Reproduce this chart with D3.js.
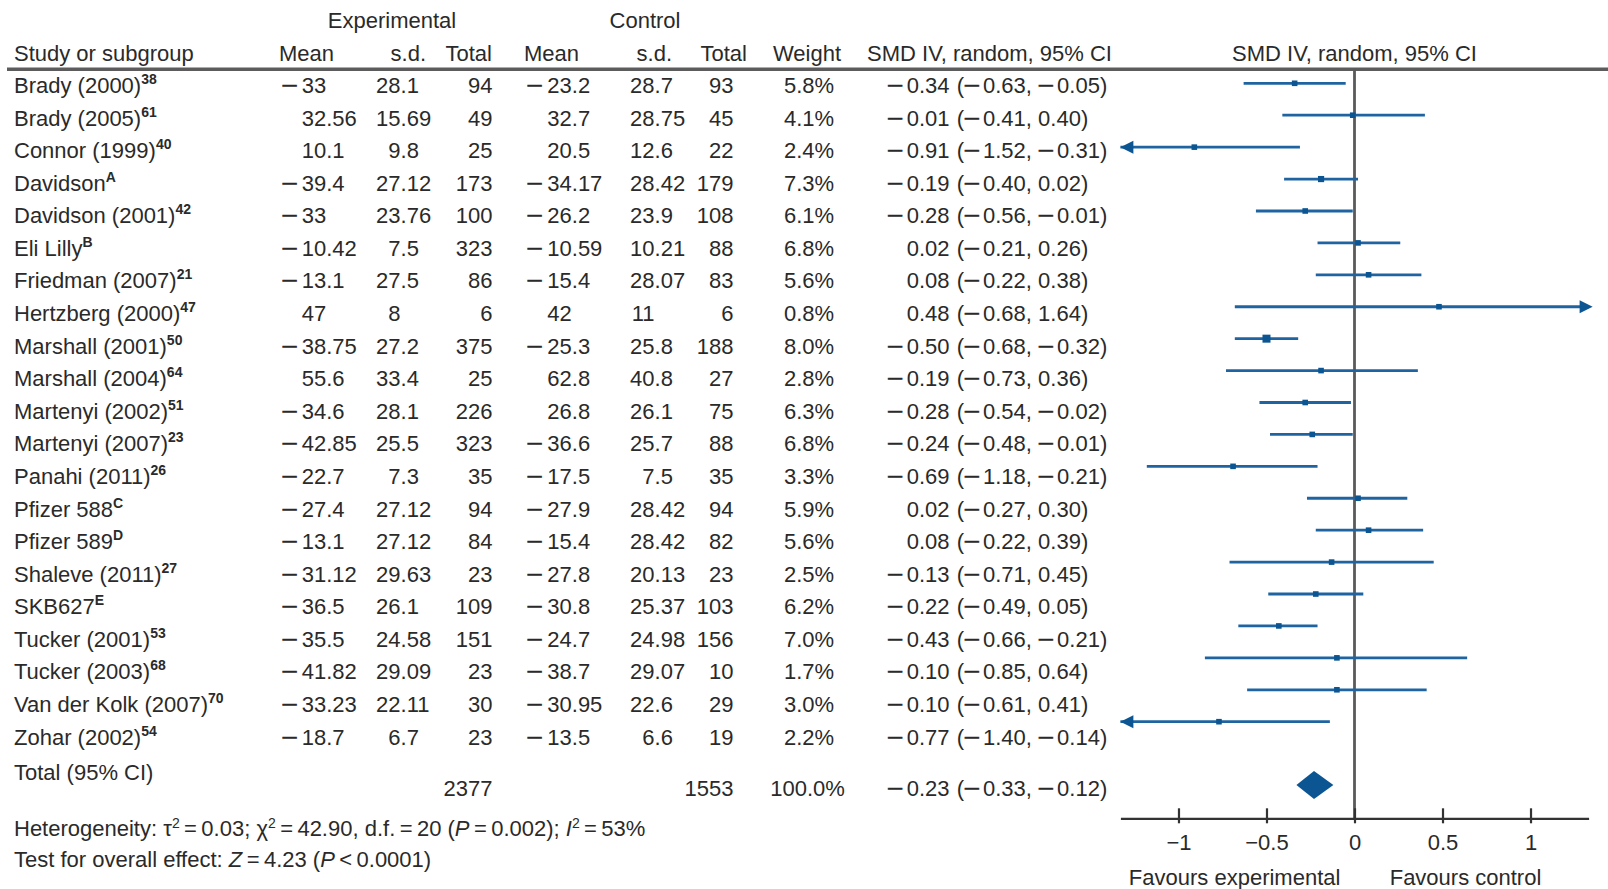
<!DOCTYPE html>
<html>
<head>
<meta charset="utf-8">
<script src="https://cdn.jsdelivr.net/npm/d3@7"></script>
<style>
  html, body { margin: 0; padding: 0; background: #fff; }
  svg { display: block; font-family: "Liberation Sans", Arial, sans-serif; }
  text { fill: #2a2a2a; font-size: 22px; }
</style>
</head>
<body>
<svg id="chart" width="1608" height="889"></svg>
<script>
// ---- Study-level data ----
const studies = ["Brady (2000)", "Brady (2005)", "Connor (1999)", "Davidson", "Davidson (2001)",
  "Eli Lilly", "Friedman (2007)", "Hertzberg (2000)", "Marshall (2001)", "Marshall (2004)",
  "Martenyi (2002)", "Martenyi (2007)", "Panahi (2011)", "Pfizer 588", "Pfizer 589",
  "Shaleve (2011)", "SKB627", "Tucker (2001)", "Tucker (2003)", "Van der Kolk (2007)", "Zohar (2002)"];
const refs = ["38", "61", "40", "A", "42", "B", "21", "47", "50", "64", "51", "23", "26", "C", "D",
  "27", "E", "53", "68", "70", "54"];

const expMean = [-33, 32.56, 10.1, -39.4, -33, -10.42, -13.1, 47, -38.75, 55.6, -34.6, -42.85,
  -22.7, -27.4, -13.1, -31.12, -36.5, -35.5, -41.82, -33.23, -18.7];
const expSd = [28.1, 15.69, 9.8, 27.12, 23.76, 7.5, 27.5, 8, 27.2, 33.4, 28.1, 25.5, 7.3, 27.12,
  27.12, 29.63, 26.1, 24.58, 29.09, 22.11, 6.7];
const expN = [94, 49, 25, 173, 100, 323, 86, 6, 375, 25, 226, 323, 35, 94, 84, 23, 109, 151, 23, 30, 23];

const ctrlMean = [-23.2, 32.7, 20.5, -34.17, -26.2, -10.59, -15.4, 42, -25.3, 62.8, 26.8, -36.6,
  -17.5, -27.9, -15.4, -27.8, -30.8, -24.7, -38.7, -30.95, -13.5];
const ctrlSd = [28.7, 28.75, 12.6, 28.42, 23.9, 10.21, 28.07, 11, 25.8, 40.8, 26.1, 25.7, 7.5,
  28.42, 28.42, 20.13, 25.37, 24.98, 29.07, 22.6, 6.6];
const ctrlN = [93, 45, 22, 179, 108, 88, 83, 6, 188, 27, 75, 88, 35, 94, 82, 23, 103, 156, 10, 29, 19];

const weight = [5.8, 4.1, 2.4, 7.3, 6.1, 6.8, 5.6, 0.8, 8.0, 2.8, 6.3, 6.8, 3.3, 5.9, 5.6, 2.5,
  6.2, 7.0, 1.7, 3.0, 2.2];
const smd = [-0.34, -0.01, -0.91, -0.19, -0.28, 0.02, 0.08, 0.48, -0.50, -0.19, -0.28, -0.24,
  -0.69, 0.02, 0.08, -0.13, -0.22, -0.43, -0.10, -0.10, -0.77];
const lower = [-0.63, -0.41, -1.52, -0.40, -0.56, -0.21, -0.22, -0.68, -0.68, -0.73, -0.54, -0.48,
  -1.18, -0.27, -0.22, -0.71, -0.49, -0.66, -0.85, -0.61, -1.40];
const upper = [-0.05, 0.40, -0.31, 0.02, -0.01, 0.26, 0.38, 1.64, -0.32, 0.36, -0.02, -0.01,
  -0.21, 0.30, 0.39, 0.45, 0.05, -0.21, 0.64, 0.41, -0.14];

// ---- Pooled result ----
const totalExpN = 2377;
const totalCtrlN = 1553;
const totalWeight = 100.0;
const totalSmd = -0.23, totalLower = -0.33, totalUpper = -0.12;

// ---- Axis ticks ----
const tickValues = [-1, -0.5, 0, 0.5, 1];

// ---- Layout ----
const svg = d3.select("#chart");
const MINUS = "\u2212";
const MINUS_ADV = 19;    // horizontal advance of a minus sign

const x = d3.scaleLinear().domain([-1.33, 1.33]).range([1120.4, 1588.6]);
const n = studies.length;
const rowText = d3.scaleLinear().domain([0, n - 1]).range([85, 736.7]);
const rowPlot = d3.scaleLinear().domain([0, n - 1]).range([83.3, 721.7]);
const totalTextY = 788.5;
const axisY = 818.3;

const blue = "#1f64a1";
const navy = "#0b5592";
const dy = "0.36em";

// a long, slightly heavy minus sign
function minusAt(g, xx, y) {
  g.append("text").attr("transform", `translate(${xx - 1.5},${y}) scale(1.3,1)`)
    .attr("dy", dy).attr("stroke", "#2a2a2a").attr("stroke-width", 0.5).text(MINUS);
}

// writes a run of pieces left to right; numbers get the long minus sign
function run(g, xx, y, pieces) {
  let cx = xx;
  pieces.forEach(p => {
    if (typeof p === "number") {
      if (p < 0) { minusAt(g, cx + 1, y); cx += MINUS_ADV; }
      const t = g.append("text").attr("x", cx).attr("y", y).attr("dy", dy).text(Math.abs(p).toFixed(2));
      cx += t.node().getComputedTextLength();
    } else {
      const t = g.append("text").attr("x", cx).attr("y", y).attr("dy", dy).attr("xml:space", "preserve").text(p);
      cx += t.node().getComputedTextLength();
    }
  });
}

function signedCell(g, v, minusX, digitX, y) {
  if (v < 0) minusAt(g, minusX, y);
  g.append("text").attr("x", digitX).attr("y", y).attr("dy", dy).text(String(Math.abs(v)));
}
function decimalCell(g, v, decX, y) {
  const parts = String(v).split(".");
  g.append("text").attr("x", decX).attr("y", y).attr("dy", dy).attr("text-anchor", "end").text(parts[0]);
  if (parts.length > 1) g.append("text").attr("x", decX).attr("y", y).attr("dy", dy).text("." + parts[1]);
}
function effectCell(g, est, lo, hi, y) {
  if (est < 0) minusAt(g, 888.3, y);
  g.append("text").attr("x", 906.7).attr("y", y).attr("dy", dy).text(Math.abs(est).toFixed(2));
  run(g, 956.7, y, ["(", lo, ", ", hi, ")"]);
}

// ---- Column headers ----
const hdr = svg.append("g");
hdr.append("text").attr("x", 392).attr("y", 28).attr("text-anchor", "middle").text("Experimental");
hdr.append("text").attr("x", 645).attr("y", 28).attr("text-anchor", "middle").text("Control");
const h2y = 61;
[
  ["Study or subgroup", 14, "start"],
  ["Mean", 279, "start"],
  ["s.d.", 426, "end"],
  ["Total", 492, "end"],
  ["Mean", 524, "start"],
  ["s.d.", 672, "end"],
  ["Total", 747, "end"],
  ["Weight", 807, "middle"],
  ["SMD IV, random, 95% CI", 1112, "end"]
].forEach(([t, xx, a]) => hdr.append("text").attr("x", xx).attr("y", h2y).attr("text-anchor", a).text(t));
hdr.append("text").attr("x", x(0)).attr("y", h2y).attr("text-anchor", "middle").text("SMD IV, random, 95% CI");

// header rule
svg.append("line").attr("x1", 7).attr("x2", 1608).attr("y1", 69.3).attr("y2", 69.3)
  .attr("stroke", "#5c5c5c").attr("stroke-width", 3.5);

// ---- Table body ----
const body = svg.append("g");
studies.forEach((name, i) => {
  const y = rowText(i);
  const g = body.append("g");
  const label = g.append("text").attr("x", 14).attr("y", y).attr("dy", dy);
  label.append("tspan").text(name);
  label.append("tspan").attr("dy", -9).attr("font-size", 14).attr("font-weight", "bold").text(refs[i]);

  signedCell(g, expMean[i], 282.7, 301.7, y);
  decimalCell(g, expSd[i], 400.6, y);
  g.append("text").attr("x", 492.5).attr("y", y).attr("dy", dy).attr("text-anchor", "end").text(expN[i]);

  signedCell(g, ctrlMean[i], 527.7, 547.3, y);
  decimalCell(g, ctrlSd[i], 654.6, y);
  g.append("text").attr("x", 733.5).attr("y", y).attr("dy", dy).attr("text-anchor", "end").text(ctrlN[i]);

  g.append("text").attr("x", 809).attr("y", y).attr("dy", dy).attr("text-anchor", "middle").text(weight[i].toFixed(1) + "%");

  effectCell(g, smd[i], lower[i], upper[i], y);
});

// total row
const tot = svg.append("g");
tot.append("text").attr("x", 14).attr("y", 772).attr("dy", dy).text("Total (95% CI)");
tot.append("text").attr("x", 492.5).attr("y", totalTextY).attr("dy", dy).attr("text-anchor", "end").text(totalExpN);
tot.append("text").attr("x", 733.5).attr("y", totalTextY).attr("dy", dy).attr("text-anchor", "end").text(totalCtrlN);
tot.append("text").attr("x", 807.5).attr("y", totalTextY).attr("dy", dy).attr("text-anchor", "middle").text(totalWeight.toFixed(1) + "%");
effectCell(tot, totalSmd, totalLower, totalUpper, totalTextY);

// heterogeneity / overall effect notes
const het = svg.append("text").attr("x", 14).attr("y", 828.5).attr("dy", dy);
het.append("tspan").text("Heterogeneity: \u03c4");
het.append("tspan").attr("dy", -8).attr("font-size", 14).text("2");
het.append("tspan").attr("dy", 8).text("\u2009=\u20090.03; \u03c7");
het.append("tspan").attr("dy", -8).attr("font-size", 14).text("2");
het.append("tspan").attr("dy", 8).text("\u2009=\u200942.90, d.f.\u2009=\u200920 (");
het.append("tspan").attr("font-style", "italic").text("P");
het.append("tspan").text("\u2009=\u20090.002); ");
het.append("tspan").attr("font-style", "italic").text("I");
het.append("tspan").attr("dy", -8).attr("font-size", 14).text("2");
het.append("tspan").attr("dy", 8).text("\u2009=\u200953%");

const ovr = svg.append("text").attr("x", 14).attr("y", 859.5).attr("dy", dy);
ovr.append("tspan").text("Test for overall effect: ");
ovr.append("tspan").attr("font-style", "italic").text("Z");
ovr.append("tspan").text("\u2009=\u20094.23 (");
ovr.append("tspan").attr("font-style", "italic").text("P");
ovr.append("tspan").text("\u2009<\u20090.0001)");

// ---- Forest plot ----
const plot = svg.append("g");
const [dMin, dMax] = x.domain();

// line of no effect
plot.append("line").attr("x1", x(0)).attr("x2", x(0)).attr("y1", 69).attr("y2", axisY)
  .attr("stroke", "#5a5a5a").attr("stroke-width", 2.8);

// confidence intervals, clipped to the axis range with arrowheads
const ci = plot.selectAll("g.ci").data(d3.range(n)).join("g").attr("class", "ci");
ci.append("line")
  .attr("x1", i => x(Math.max(lower[i], dMin)))
  .attr("x2", i => x(Math.min(upper[i], dMax)))
  .attr("y1", i => rowPlot(i)).attr("y2", i => rowPlot(i))
  .attr("stroke", blue).attr("stroke-width", 2.8);

const arrowLen = 13, arrowHalf = 6.5;
ci.filter(i => lower[i] < dMin).append("path")
  .attr("d", i => {
    const tx = x(dMin), y = rowPlot(i);
    return `M${tx},${y}L${tx + arrowLen},${y - arrowHalf}L${tx + arrowLen},${y + arrowHalf}Z`;
  }).attr("fill", navy);
ci.filter(i => upper[i] > dMax).append("path")
  .attr("d", i => {
    const tx = x(dMax) + 4, y = rowPlot(i);
    return `M${tx},${y}L${tx - arrowLen},${y - arrowHalf}L${tx - arrowLen},${y + arrowHalf}Z`;
  }).attr("fill", navy);

// point estimates, sized by study weight
const side = w => Math.max(5.6, 2.6 * w - 12.8);
ci.append("rect")
  .attr("x", i => x(smd[i]) - side(weight[i]) / 2)
  .attr("y", i => rowPlot(i) - side(weight[i]) / 2)
  .attr("width", i => side(weight[i])).attr("height", i => side(weight[i]))
  .attr("fill", navy);

// pooled estimate diamond
const dy0 = 785, dh = 14;
plot.append("path")
  .attr("d", `M${x(totalLower)},${dy0}L${x(totalSmd)},${dy0 - dh}L${x(totalUpper)},${dy0}L${x(totalSmd)},${dy0 + dh}Z`)
  .attr("fill", navy);

// x axis
const axisG = plot.append("g").attr("transform", `translate(0,${axisY})`)
  .call(d3.axisBottom(x).tickValues(tickValues).tickSizeOuter(0).tickFormat(d3.format("~g")));
axisG.select(".domain").attr("stroke", "#333").attr("stroke-width", 2.2);
axisG.selectAll(".tick line").attr("y1", -10).attr("y2", 5).attr("stroke", "#333").attr("stroke-width", 2.2);
axisG.selectAll(".tick text").attr("y", 16).attr("font-size", 22).attr("fill", "#2a2a2a")
  .attr("font-family", "Liberation Sans, Arial, sans-serif");

plot.append("text").attr("x", x(-0.08)).attr("y", 877).attr("dy", dy).attr("text-anchor", "end").text("Favours experimental");
plot.append("text").attr("x", x(0.2)).attr("y", 877).attr("dy", dy).text("Favours control");
</script>
</body>
</html>
